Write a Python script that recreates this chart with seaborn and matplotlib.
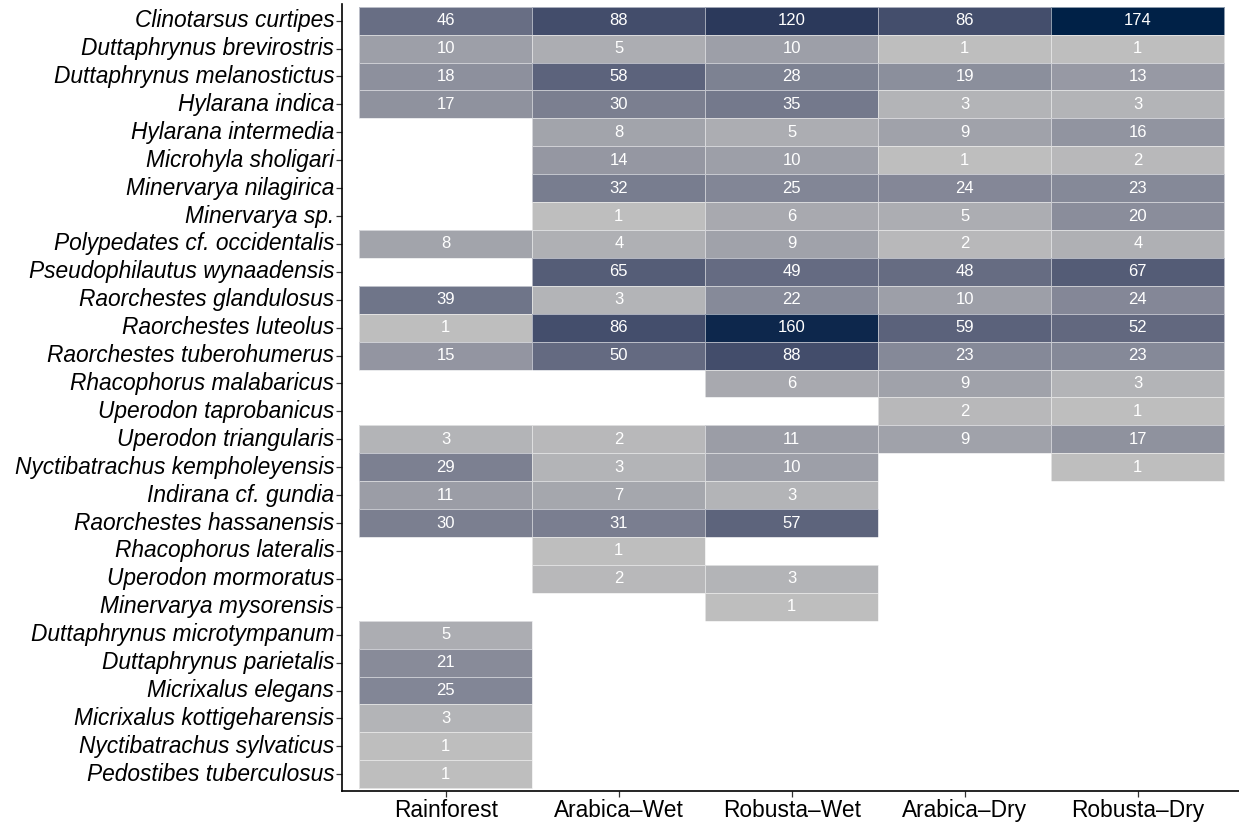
import numpy as np
import pandas as pd
import matplotlib
matplotlib.use("Agg")
import matplotlib.pyplot as plt
from matplotlib.colors import ListedColormap, FuncNorm
import seaborn as sns

# Habitat columns
habitats = ["Rainforest", "Arabica\u2013Wet", "Robusta\u2013Wet", "Arabica\u2013Dry", "Robusta\u2013Dry"]

# Species rows (top to bottom)
species = [
    "Clinotarsus curtipes", "Duttaphrynus brevirostris", "Duttaphrynus melanostictus",
    "Hylarana indica", "Hylarana intermedia", "Microhyla sholigari",
    "Minervarya nilagirica", "Minervarya sp.", "Polypedates cf. occidentalis",
    "Pseudophilautus wynaadensis", "Raorchestes glandulosus", "Raorchestes luteolus",
    "Raorchestes tuberohumerus", "Rhacophorus malabaricus", "Uperodon taprobanicus",
    "Uperodon triangularis", "Nyctibatrachus kempholeyensis", "Indirana cf. gundia",
    "Raorchestes hassanensis", "Rhacophorus lateralis", "Uperodon mormoratus",
    "Minervarya mysorensis", "Duttaphrynus microtympanum", "Duttaphrynus parietalis",
    "Micrixalus elegans", "Micrixalus kottigeharensis", "Nyctibatrachus sylvaticus",
    "Pedostibes tuberculosus",
]

na = np.nan
# Abundance per habitat (NaN = not recorded)
rainforest = [46, 10, 18, 17, na, na, na, na, 8, na, 39, 1, 15, na, na, 3, 29, 11, 30,
              na, na, na, 5, 21, 25, 3, 1, 1]
arabica_wet = [88, 5, 58, 30, 8, 14, 32, 1, 4, 65, 3, 86, 50, na, na, 2, 3, 7, 31,
               1, 2, na, na, na, na, na, na, na]
robusta_wet = [120, 10, 28, 35, 5, 10, 25, 6, 9, 49, 22, 160, 88, 6, na, 11, 10, 3, 57,
               na, 3, 1, na, na, na, na, na, na]
arabica_dry = [86, 1, 19, 3, 9, 1, 24, 5, 2, 48, 10, 59, 23, 9, 2, 9, na, na, na,
               na, na, na, na, na, na, na, na, na]
robusta_dry = [174, 1, 13, 3, 16, 2, 23, 20, 4, 67, 24, 52, 23, 3, 1, 17, 1, na, na,
               na, na, na, na, na, na, na, na, na]

df = pd.DataFrame(
    np.column_stack([rainforest, arabica_wet, robusta_wet, arabica_dry, robusta_dry]),
    index=species, columns=habitats,
)


# Gradient from grey to dark navy, interpolated in CIE Lab space
def _srgb_to_lin(c):
    return np.where(c <= 0.04045, c / 12.92, ((c + 0.055) / 1.055) ** 2.4)


def _lin_to_srgb(c):
    c = np.clip(c, 0, 1)
    return np.where(c <= 0.0031308, 12.92 * c, 1.055 * c ** (1 / 2.4) - 0.055)


_M = np.array([[0.4124564, 0.3575761, 0.1804375],
               [0.2126729, 0.7151522, 0.0721750],
               [0.0193339, 0.1191920, 0.9503041]])
_WHITE = _M @ np.ones(3)


def _rgb_to_lab(rgb):
    xyz = _M @ _srgb_to_lin(np.asarray(rgb)) / _WHITE
    f = np.where(xyz > 0.008856, np.cbrt(xyz), 7.787 * xyz + 16 / 116)
    return np.array([116 * f[1] - 16, 500 * (f[0] - f[1]), 200 * (f[1] - f[2])])


def _lab_to_rgb(lab):
    fy = (lab[0] + 16) / 116
    fx = fy + lab[1] / 500
    fz = fy - lab[2] / 200
    f = np.array([fx, fy, fz])
    xyz = np.where(f ** 3 > 0.008856, f ** 3, (f - 16 / 116) / 7.787) * _WHITE
    return _lin_to_srgb(np.linalg.solve(_M, xyz))


low = matplotlib.colors.to_rgb("#BEBEBE")
high = matplotlib.colors.to_rgb("#002147")
lab_lo, lab_hi = _rgb_to_lab(low), _rgb_to_lab(high)
cmap = ListedColormap([_lab_to_rgb(lab_lo + t * (lab_hi - lab_lo)) for t in np.linspace(0, 1, 256)])
norm = FuncNorm((np.sqrt, np.square), vmin=1, vmax=174)

sns.set_style("white")
plt.rcParams["font.family"] = ["Liberation Sans", "DejaVu Sans"]

fig = plt.figure(figsize=(12.39, 8.22), dpi=100)
ax = fig.add_axes([342 / 1239, 1 - 791 / 822, (1241.6 - 342) / 1239, (791 - 3.9) / 822])

sns.heatmap(
    df, ax=ax, cmap=cmap, norm=norm, cbar=False,
    annot=True, fmt=".0f",
    annot_kws={"color": "white", "fontsize": 12},
    linewidths=0.6, linecolor=(1, 1, 1, 0.55),
)

ax.set_xlim(-0.1, len(habitats) + 0.1)
ax.set_ylim(len(species) + 0.1, -0.1)
ax.set_xlabel("")
ax.set_ylabel("")

for side in ["top", "right"]:
    ax.spines[side].set_visible(False)
for side in ["left", "bottom"]:
    ax.spines[side].set_visible(True)
    ax.spines[side].set_color("black")
    ax.spines[side].set_linewidth(1.2)

ax.tick_params(axis="both", which="major", length=4, width=0.9, color="#333333",
               labelsize=16.4, labelcolor="black", left=True, bottom=True)
ax.tick_params(axis="y", pad=1.5, rotation=0)
ax.tick_params(axis="x", pad=1.5, rotation=0)
for lbl in ax.get_yticklabels():
    lbl.set_fontstyle("italic")

fig.savefig("out.png", dpi=100)
